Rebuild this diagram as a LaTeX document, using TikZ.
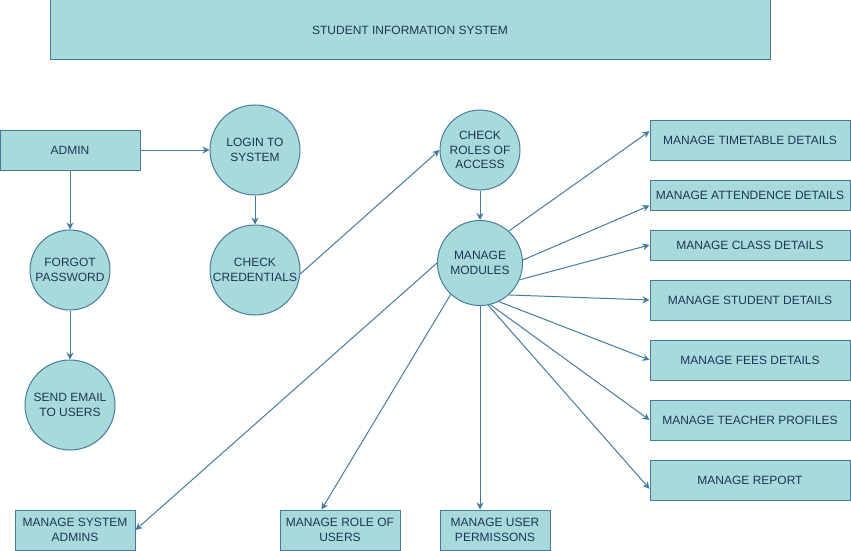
\documentclass[tikz,border=0pt]{standalone}
\usepackage{fontspec}
\setmainfont{Liberation Sans}
\usetikzlibrary{arrows.meta, positioning}

\definecolor{boxfill}{HTML}{A8DADC}
\definecolor{boxline}{HTML}{457B9D}
\definecolor{boxtext}{HTML}{1D3557}

\begin{document}
\begin{tikzpicture}[
        x = 1pt, y = -1pt,
        on grid,
        >= {Stealth[length = 7pt, width = 7pt]},
        font = \fontsize{12}{14.5}\selectfont,
        every node/.style = {text = boxtext, align = center},
        every edge/.style = {draw = boxline, line width = 1pt},
        process/.style = {circle, draw = boxline, fill = boxfill, line width = 1pt, inner sep = 0pt},
        entity/.style = {rectangle, draw = boxline, fill = boxfill, line width = 1pt, inner sep = 0pt, minimum height = 40pt},
        module/.style = {entity, minimum width = 200pt}
    ]

    \useasboundingbox (0,0) rectangle (851,551);

    \node[entity, minimum width = 720pt, minimum height = 60pt] (title) at (410,30) {STUDENT INFORMATION SYSTEM};

    \node[entity, minimum width = 140pt] (admin) at (70,150) {ADMIN};
    \node[process, minimum size = 90pt] (login) at (255,150) {LOGIN TO\\SYSTEM};
    \node[process, minimum size = 80pt] (forgot) [below = 120pt of admin] {FORGOT\\PASSWORD};
    \node[process, minimum size = 90pt] (email) [below = 135pt of forgot] {SEND EMAIL\\TO USERS};
    \node[process, minimum size = 90pt] (cred) [below = 120pt of login] {CHECK\\CREDENTIALS};
    \node[process, minimum size = 80pt] (roles) at (480,150) {CHECK\\ROLES OF\\ACCESS};
    \node[process, minimum size = 85pt] (modules) [below = 113pt of roles] {MANAGE\\MODULES};

    \node[module] (timetable) at (750,140) {MANAGE TIMETABLE DETAILS};
    \node[module, minimum height = 30pt] (attend) [below = 55pt of timetable] {MANAGE ATTENDENCE DETAILS};
    \node[module, minimum height = 30pt] (class) [below = 50pt of attend] {MANAGE CLASS DETAILS};
    \node[module] (student) [below = 55pt of class] {MANAGE STUDENT DETAILS};
    \node[module] (fees) [below = 60pt of student] {MANAGE FEES DETAILS};
    \node[module] (teacher) [below = 60pt of fees] {MANAGE TEACHER PROFILES};
    \node[module] (report) [below = 60pt of teacher] {MANAGE REPORT};

    \node[entity, minimum width = 120pt] (sysadmins) at (75,530) {MANAGE SYSTEM\\ADMINS};
    \node[entity, minimum width = 120pt] (roleusers) at (340,530) {MANAGE ROLE OF\\USERS};
    \node[entity, minimum width = 110pt] (permissions) at (495,530) {MANAGE USER\\PERMISSONS};

    \path[->]
        (admin) edge (login)
        (admin) edge (forgot)
        (forgot) edge (email)
        (login) edge (cred)
        (cred.-5) edge (roles.west)
        (roles) edge (modules);

    \path[->]
        (modules.48) edge (timetable.175)
        (modules.4) edge (attend.186)
        (modules.-23) edge (class.west)
        (modules.-48) edge (student.west)
        (modules.-64) edge (fees.west)
        (modules.-76) edge (teacher.west)
        (modules.-79) edge (report.185)
        (modules.south) edge (modules.south |- permissions.north)
        (modules.227) edge (roleusers.132)
        (modules.west) edge (sysadmins.east);
\end{tikzpicture}
\end{document}
